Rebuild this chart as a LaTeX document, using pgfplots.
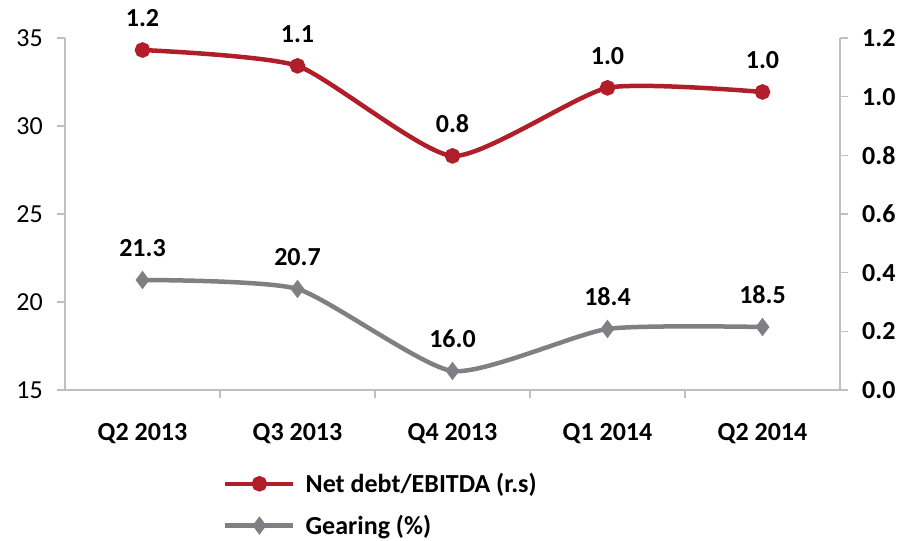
\documentclass[border=0pt]{standalone}
\usepackage{fontspec}
\setmainfont{Carlito}
\usepackage{pgfplots}
\usepackage{pgfplotstable}
\pgfplotsset{compat=1.18}
\definecolor{myred}{RGB}{176,30,42}
\definecolor{mygray}{RGB}{128,128,132}
\definecolor{axgray}{RGB}{191,191,191}
\pgfplotstableread{
x y lab
0 21.25 21.3
1 20.74 20.7
2 16.08 16.0
3 18.47 18.4
4 18.58 18.5
}\gearing
\pgfplotstableread{
x y lab
0 1.159 1.2
1 1.105 1.1
2 0.798 0.8
3 1.030 1.0
4 1.016 1.0
}\netdebt
\newcommand{\fs}{\fontsize{26bp}{30bp}\selectfont}
\begin{document}
\begin{tikzpicture}
\useasboundingbox (0,0) rectangle (899bp,541bp);
\begin{axis}[
  at={(65bp,151bp)}, anchor=south west,
  scale only axis, width=775bp, height=352bp,
  xmin=-0.5, xmax=4.5, ymin=15, ymax=35,
  axis x line*=bottom, axis y line*=left,
  axis line style={draw=axgray, line width=1.2bp, -},
  tick align=outside,
  major tick length=8bp,
  ytick={15,20,...,35},
  ytick style={draw=axgray, line width=1.2bp},
  yticklabel style={font=\fs, inner sep=0pt, xshift=-14bp},
  /pgf/number format/assume math mode=true,
  xtick={0,...,4},
  xticklabels={Q2 2013,Q3 2013,Q4 2013,Q1 2014,Q2 2014},
  xtick style={draw=none},
  xticklabel style={font=\fs\bfseries, inner sep=0pt, yshift=-25bp},
  extra x ticks={0.5,1.5,2.5,3.5},
  extra x tick labels={},
  extra x tick style={xtick style={draw=axgray, line width=1.2bp}},
  legend style={at={(0.2,-0.225)}, anchor=north west, draw=none, fill=none,
    font=\fs\bfseries, row sep=17bp, legend cell align=left,
    /tikz/every odd column/.append style={column sep=8bp}},
  legend image code/.code={\draw[mark repeat=2,mark phase=2] plot coordinates {(0bp,0bp) (34bp,0bp) (68bp,0bp)};},
  clip=false,
]
\addlegendimage{myred, line width=4.5bp, mark=*, mark size=5.5bp, mark options={solid,fill=myred}}
\addlegendentry{Net debt/EBITDA (r.s)}
\addplot[mygray, line width=4.5bp, smooth, tension=0.35, mark=diamond*, mark size=5.5bp, mark options={fill=mygray},
  nodes near coords={\pgfplotspointmeta}, point meta=explicit symbolic,
  every node near coord/.append style={font=\fs\bfseries, black, inner sep=0pt, anchor=south, yshift=21bp}]
  table[x=x, y=y, meta=lab] {\gearing};
\addlegendentry{Gearing (\%)}
\end{axis}
\begin{axis}[
  at={(65bp,151bp)}, anchor=south west,
  scale only axis, width=775bp, height=352bp,
  xmin=-0.5, xmax=4.5, ymin=0, ymax=1.2,
  axis x line=none, axis y line*=right,
  axis line style={draw=axgray, line width=1.2bp, -},
  tick align=outside,
  major tick length=8bp,
  ytick={0,0.2,...,1.2},
  ytick style={draw=axgray, line width=1.2bp},
  yticklabel style={font=\fs\bfseries, inner sep=0pt, xshift=14bp,
    /pgf/number format/.cd, fixed, fixed zerofill, precision=1},
  /pgf/number format/assume math mode=true,
  clip=false,
]
\addplot[myred, line width=4.5bp, smooth, tension=0.35, mark=*, mark size=5.5bp, mark options={fill=myred},
  nodes near coords={\pgfplotspointmeta}, point meta=explicit symbolic,
  every node near coord/.append style={font=\fs\bfseries, black, inner sep=0pt, anchor=south, yshift=21bp}]
  table[x=x, y=y, meta=lab] {\netdebt};
\end{axis}
\end{tikzpicture}
\end{document}
